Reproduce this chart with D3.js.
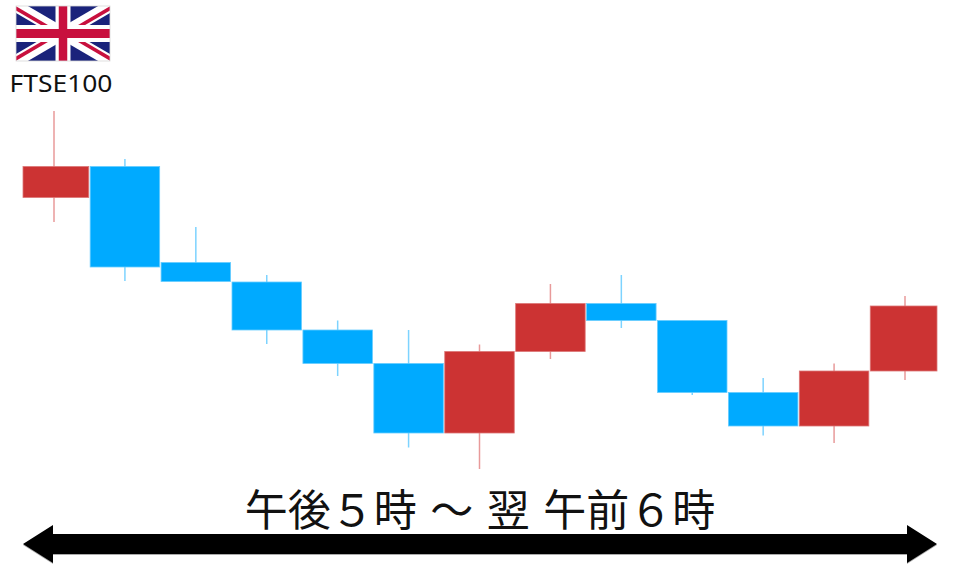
<!DOCTYPE html>
<html>
<head>
<meta charset="utf-8">
<script src="https://cdn.jsdelivr.net/npm/d3@7"></script>
<style>
    html, body { margin: 0; padding: 0; background: #fff; }
    svg { display: block; }
</style>
</head>
<body>
<div id="chart"></div>
<script>
const hours = [0, 1, 2, 3, 4, 5, 6, 7, 8, 9, 10, 11, 12];
const opens = [272.5, 303.5, 207.5, 188, 140, 106.5, 37, 118.5, 166.5, 149.5, 77.5, 44, 99];
const closes = [303.5, 203, 188.5, 140, 106.5, 37, 118.5, 166.5, 149.5, 77.5, 44, 99, 164];
const highs = [359, 311, 243, 195, 149.5, 140, 125.5, 186, 195, 149.5, 92, 106.5, 174];
const lows = [248, 189, 188.5, 126, 94, 22.5, 1, 111, 142, 75, 34.5, 27, 90];

const titleText = "午後５時 ～ 翌 午前６時";
const indexName = "FTSE100";

const width = 960;
const height = 567;

const svg = d3.select("#chart")
    .append("svg")
    .attr("width", width)
    .attr("height", height);

// scales
const x = d3.scalePoint().domain(hours).range([54, 905]);
const y = d3.scaleLinear().domain([0, 360]).range([470, 110]);

const bodyWidth = 69.5;
const plotLeft = 23;
const plotRight = 937;
const upColor = "#cc3333";
const downColor = "#00aaff";

const candles = hours.map((h, i) => ({
    hour: h,
    open: opens[i],
    close: closes[i],
    high: highs[i],
    low: lows[i],
    up: closes[i] > opens[i]
}));

// first and last candle get cut off by the arrow ends
const bodyLeft = d => Math.max(x(d.hour) - bodyWidth / 2, plotLeft);
const bodyRight = d => Math.min(x(d.hour) + bodyWidth / 2, plotRight);

// wicks
svg.append("g")
    .selectAll("line")
    .data(candles)
    .join("line")
    .attr("x1", d => x(d.hour))
    .attr("x2", d => x(d.hour))
    .attr("y1", d => y(d.high))
    .attr("y2", d => y(d.low))
    .attr("stroke", d => d.up ? "#e89a9a" : "#7dd3ff")
    .attr("stroke-width", 1.5);

// bodies
svg.append("g")
    .selectAll("rect")
    .data(candles)
    .join("rect")
    .attr("x", bodyLeft)
    .attr("width", d => bodyRight(d) - bodyLeft(d))
    .attr("y", d => y(Math.max(d.open, d.close)))
    .attr("height", d => Math.abs(y(d.open) - y(d.close)))
    .attr("fill", d => d.up ? upColor : downColor)
    .attr("stroke", d => d.up ? "#dd7777" : "#66ccff")
    .attr("stroke-width", 0.8);

// union jack
const flag = svg.append("g").attr("transform", "translate(16,6)");
const flagW = 94;
const flagH = 55;

flag.append("clipPath")
    .attr("id", "flag-clip")
    .append("rect")
    .attr("width", flagW)
    .attr("height", flagH);

const field = flag.append("g").attr("clip-path", "url(#flag-clip)");

field.append("rect")
    .attr("width", flagW)
    .attr("height", flagH)
    .attr("fill", "#1a237b");

const diagonals = [[0, 0, flagW, flagH], [0, flagH, flagW, 0]];
field.selectAll(".diag-white")
    .data(diagonals)
    .join("line")
    .attr("class", "diag-white")
    .attr("x1", d => d[0]).attr("y1", d => d[1])
    .attr("x2", d => d[2]).attr("y2", d => d[3])
    .attr("stroke", "#fff")
    .attr("stroke-width", 12);

// red diagonals are offset either side of the centre, like the real flag
const arms = [
    [0, 0, -1.5, 1.5],
    [flagW, flagH, 1.5, -1.5],
    [flagW, 0, 1.5, 1.5],
    [0, flagH, -1.5, -1.5]
];
field.selectAll(".diag-red")
    .data(arms)
    .join("line")
    .attr("class", "diag-red")
    .attr("x1", d => d[0] + d[2]).attr("y1", d => d[1] + d[3])
    .attr("x2", d => flagW / 2 + d[2]).attr("y2", d => flagH / 2 + d[3])
    .attr("stroke", "#c8103e")
    .attr("stroke-width", 3.5);

const cross = [
    [flagW / 2, 0, flagW / 2, flagH, 15, 8.5],
    [0, flagH / 2, flagW, flagH / 2, 17, 9]
];
[["#fff", 4], ["#c8103e", 5]].forEach(s => {
    field.append("g")
        .selectAll("line")
        .data(cross)
        .join("line")
        .attr("x1", d => d[0]).attr("y1", d => d[1])
        .attr("x2", d => d[2]).attr("y2", d => d[3])
        .attr("stroke", s[0])
        .attr("stroke-width", d => d[s[1]]);
});

flag.append("rect")
    .attr("width", flagW)
    .attr("height", flagH)
    .attr("fill", "none")
    .attr("stroke", "#d8d8d8")
    .attr("stroke-width", 0.8);

svg.append("text")
    .attr("x", 61)
    .attr("y", 92)
    .attr("text-anchor", "middle")
    .attr("font-family", "'Noto Sans', sans-serif")
    .attr("font-size", 24)
    .attr("fill", "#111")
    .attr("textLength", 103)
    .attr("lengthAdjust", "spacingAndGlyphs")
    .text(indexName);

// time range arrow
const arrowMid = 544;
const arrow = d3.path();
arrow.moveTo(plotLeft, arrowMid);
arrow.lineTo(plotLeft + 30, arrowMid - 19);
arrow.lineTo(plotLeft + 30, arrowMid - 10);
arrow.lineTo(plotRight - 30, arrowMid - 10);
arrow.lineTo(plotRight - 30, arrowMid - 19);
arrow.lineTo(plotRight, arrowMid);
arrow.lineTo(plotRight - 30, arrowMid + 19);
arrow.lineTo(plotRight - 30, arrowMid + 10);
arrow.lineTo(plotLeft + 30, arrowMid + 10);
arrow.lineTo(plotLeft + 30, arrowMid + 19);
arrow.closePath();

// thin grey edge under the arrow
svg.append("path")
    .attr("d", arrow.toString())
    .attr("fill", "#aaa")
    .attr("transform", "translate(0,1)");

svg.append("path")
    .attr("d", arrow.toString())
    .attr("fill", "#000");

svg.append("text")
    .attr("x", 480)
    .attr("y", 526)
    .attr("text-anchor", "middle")
    .attr("font-family", "'Noto Sans CJK JP', sans-serif")
    .attr("font-size", 43)
    .attr("word-spacing", 3.8)
    .attr("fill", "#111")
    .text(titleText);
</script>
</body>
</html>
